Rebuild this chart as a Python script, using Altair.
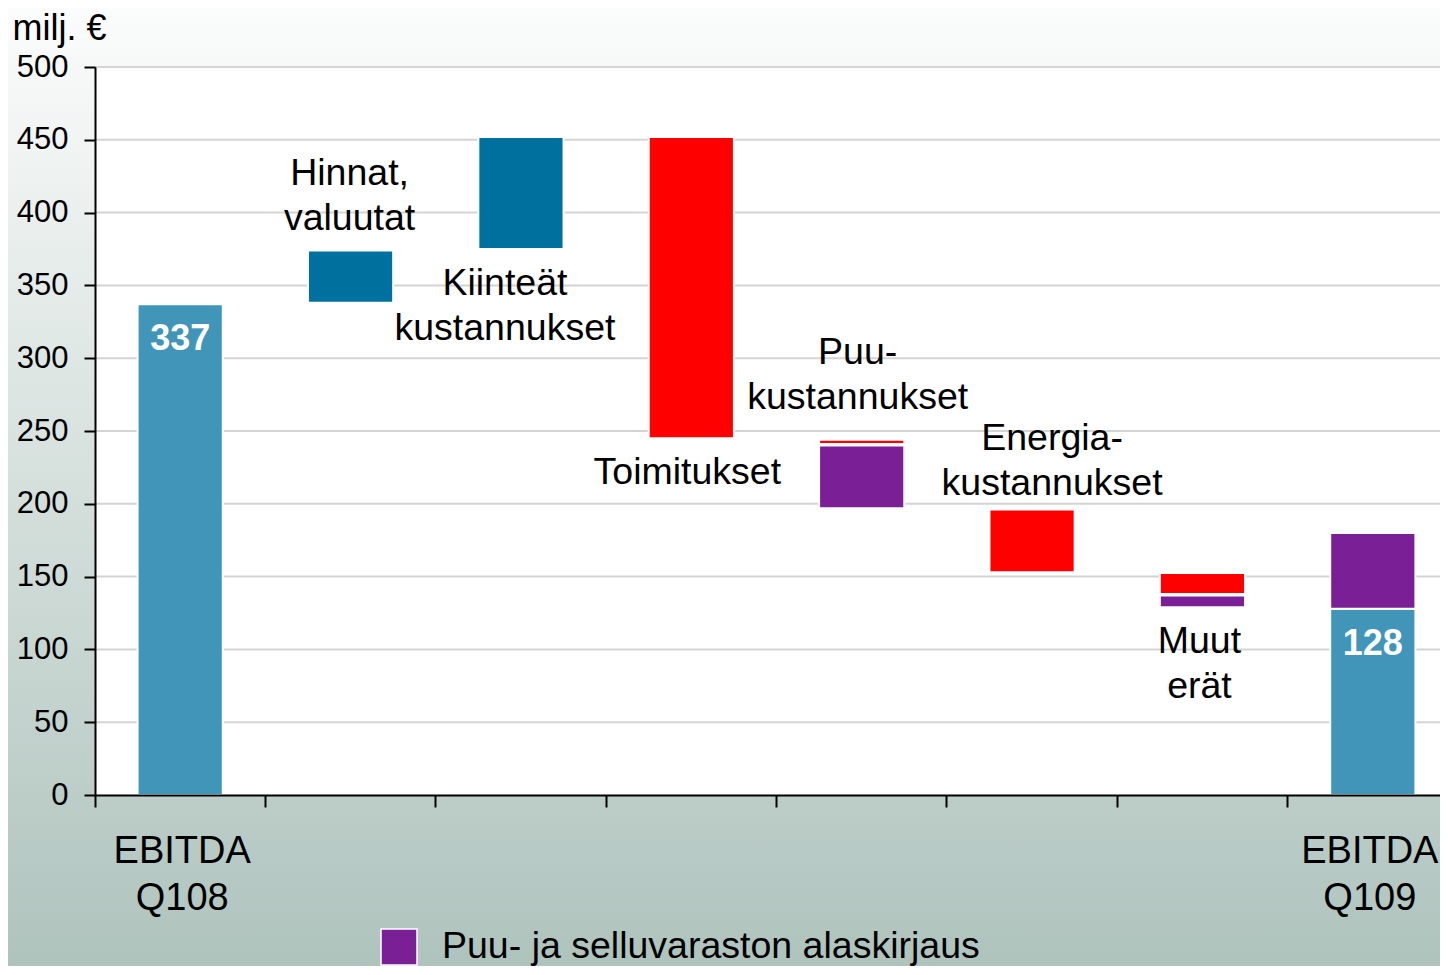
import altair as alt
import pandas as pd

FONT = "Liberation Sans"
WRITE_DOWN = "Puu- ja selluvaraston alaskirjaus"

# x categories (waterfall steps)
categories = ["EBITDA Q108", "Hinnat, valuutat", "Kiinteät kustannukset", "Toimitukset",
              "Puukustannukset", "Energiakustannukset", "Muut erät", "EBITDA Q109"]

# bar segments (start / end in milj. €)
seg_category = ["EBITDA Q108", "Hinnat, valuutat", "Kiinteät kustannukset", "Toimitukset",
                "Puukustannukset", "Puukustannukset", "Energiakustannukset",
                "Muut erät", "Muut erät", "EBITDA Q109", "EBITDA Q109"]
seg_start = [0, 338, 375, 452, 244, 240, 196, 152.5, 137, 0, 128]
seg_end = [337, 374, 452, 245, 241, 197, 153, 138, 129, 128, 180]
seg_kind = ["EBITDA", "Nousu", "Nousu", "Lasku", "Lasku", WRITE_DOWN, "Lasku",
            "Lasku", WRITE_DOWN, "EBITDA", WRITE_DOWN]

kind_domain = ["EBITDA", "Nousu", "Lasku", WRITE_DOWN]
kind_colors = ["#4195b9", "#00719f", "#ff0000", "#7b1f96"]

# EBITDA value labels
ebitda_categories = ["EBITDA Q108", "EBITDA Q109"]
ebitda_values = [337, 128]

# step annotations (y = first text line, milj. €)
label_text = ["Hinnat,\nvaluutat", "Kiinteät\nkustannukset", "Toimitukset",
              "Puu-\nkustannukset", "Energia-\nkustannukset", "Muut\nerät"]
label_category = ["Hinnat, valuutat", "Kiinteät kustannukset", "Toimitukset",
                  "Puukustannukset", "Energiakustannukset", "Muut erät"]
label_y = [426.3, 350.8, 221.1, 303.8, 244.4, 105.3]
label_dx = [-1, -16, -4, -4, 20, -3]

# category labels under the axis
axis_text = ["EBITDA\nQ108", "EBITDA\nQ109"]
axis_category = ["EBITDA Q108", "EBITDA Q109"]
axis_y = [-39, -39]
axis_dx = [2, -3]

y_ticks = [0, 50, 100, 150, 200, 250, 300, 350, 400, 450, 500]
grid_values = [50, 100, 150, 200, 250, 300, 350, 400, 450, 500]

W, H = 1345, 728
PL, PT, PB = 87, 59, 171

segments = pd.DataFrame({"category": seg_category, "start": seg_start,
                         "end": seg_end, "kind": seg_kind})

x_scale = alt.Scale(domain=categories, paddingInner=0, paddingOuter=0, range=[0, 1363])
y_scale = alt.Scale(domain=[0, 500], nice=False)

gradient = alt.LinearGradient(
    gradient="linear",
    stops=[alt.GradientStop(color="#fbfcfc", offset=0),
           alt.GradientStop(color="#afc3bd", offset=1)],
    x1=0, x2=0, y1=0, y2=1)

bg = alt.Chart(alt.Data(values=[{}])).mark_rect(fill=gradient).encode(
    x=alt.value(-PL), x2=alt.value(W), y=alt.value(-PT), y2=alt.value(H + PB))

plot_bg = alt.Chart(alt.Data(values=[{}])).mark_rect(fill="white").encode(
    y=alt.datum(0, scale=y_scale), y2=alt.datum(500))

grid = alt.Chart(pd.DataFrame({"v": grid_values})).mark_rule(
    color="#d4d4d4", strokeWidth=2).encode(y=alt.Y("v:Q", scale=y_scale))

bars = alt.Chart(segments).mark_bar(
    width=alt.RelativeBandSize(0.5), stroke="white", strokeWidth=2).encode(
    x=alt.X("category:N", scale=x_scale, sort=categories,
            axis=alt.Axis(title=None, labels=False, bandPosition=0, grid=False,
                          domainColor="black", domainWidth=2, tickColor="black",
                          tickWidth=2, tickSize=12, zindex=1)),
    y=alt.Y("start:Q", scale=y_scale,
            axis=alt.Axis(values=y_ticks, grid=False, title="milj. €",
                          titleAngle=0, titleAlign="left", titleBaseline="alphabetic",
                          titleX=-83, titleY=-28, titleFont=FONT, titleFontSize=36,
                          titleFontWeight="normal", titleColor="black",
                          labelFont=FONT, labelFontSize=31, labelColor="black",
                          labelPadding=16, tickSize=11, tickColor="black", tickWidth=2,
                          domainColor="black", domainWidth=2, zindex=1)),
    y2="end:Q",
    color=alt.Color("kind:N",
                    scale=alt.Scale(domain=kind_domain, range=kind_colors),
                    legend=alt.Legend(values=[WRITE_DOWN], title=None, orient="none",
                                      legendX=285, legendY=861, padding=0,
                                      symbolType="square", symbolSize=1296,
                                      symbolStrokeColor="white", symbolStrokeWidth=1.5,
                                      labelFont=FONT, labelFontSize=37.5,
                                      labelColor="black", labelOffset=24,
                                      labelLimit=800)),
)

values = alt.Chart(pd.DataFrame({"category": ebitda_categories, "value": ebitda_values})
                   ).mark_text(font=FONT, fontSize=36, fontWeight="bold", color="white",
                               baseline="middle", dy=35).encode(
    x=alt.X("category:N", scale=x_scale, sort=categories),
    y=alt.Y("value:Q", scale=y_scale),
    text=alt.Text("value:Q"))

layers = [bg, plot_bg, grid, bars, values]


def add_text(texts, cats, ys, dxs, size):
    for t, c, yv, dx in zip(texts, cats, ys, dxs):
        layers.append(
            alt.Chart(pd.DataFrame({"category": [c], "y": [yv], "t": [t]})).mark_text(
                font=FONT, fontSize=size, lineHeight=45 if size < 38 else 47,
                lineBreak="\n", color="black",
                baseline="middle", align="center", dx=dx).encode(
                x=alt.X("category:N", scale=x_scale, sort=categories),
                y=alt.Y("y:Q", scale=y_scale),
                text="t:N"))


add_text(label_text, label_category, label_y, label_dx, 37.5)
add_text(axis_text, axis_category, axis_y, axis_dx, 38)

chart = alt.layer(*layers).properties(
    width=W, height=H,
    padding={"left": PL, "top": PT, "right": 0, "bottom": PB},
    autosize=alt.AutoSizeParams(type="none"),
).configure_view(stroke=None).configure(font=FONT)

chart.save("out.html", embed_options={"renderer": "svg", "actions": False})
